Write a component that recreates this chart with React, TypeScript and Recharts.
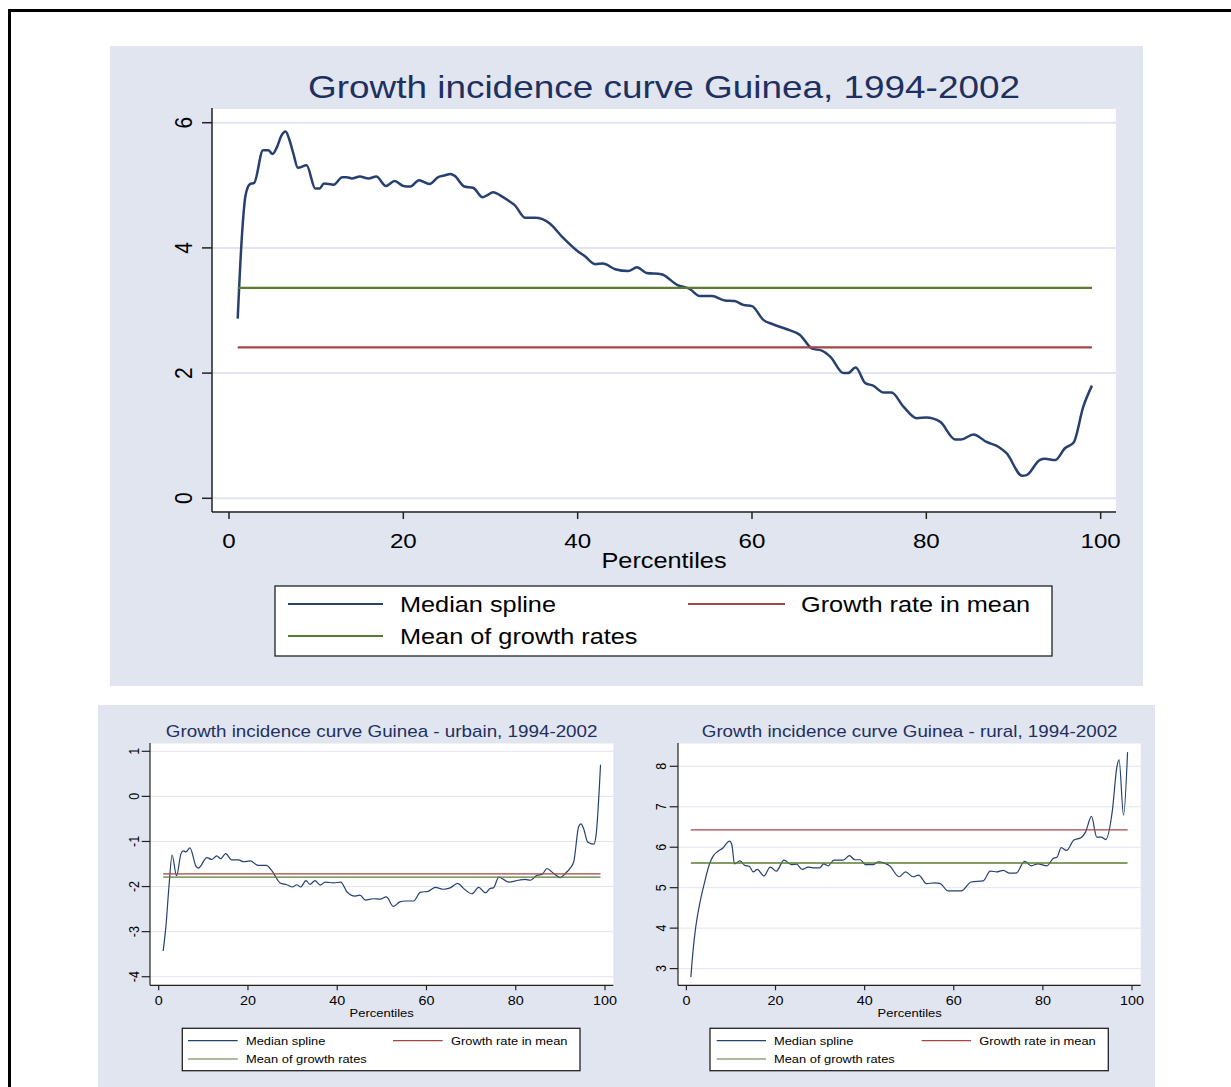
import { LineChart, Line, XAxis, YAxis, CartesianGrid } from 'recharts'

const FONT = '"Liberation Sans", Arial, Helvetica, sans-serif'
const STRETCH = 1.15
const PANEL_BG = '#e0e5f0'
const GRID = '#e1e5ef'
const NAVY = '#27406f'
const MAROON = '#a4444a'
const GREEN = '#5b7b33'
const TITLE_COLOR = '#1f305f'
const AXIS = '#222'

const X_TICKS = [0, 20, 40, 60, 80, 100]
const LEGEND_LABELS = ['Median spline', 'Growth rate in mean', 'Mean of growth rates']
const X_LABEL = 'Percentiles'
// the two reference series run across this range of percentiles
const REF_RANGE = [1, 99]

// Guinea, national
const NAT_TITLE = 'Growth incidence curve Guinea, 1994-2002'
const NAT_Y_TICKS = [0, 2, 4, 6]
const NAT_PCT = [
  1, 1.45, 1.9, 2.4, 2.9, 3.9, 4.5, 5, 5.5, 6,
  6.5, 6.9, 7.4, 7.9, 8.9, 9.9, 10.4, 10.9, 12, 13,
  13.5, 14.1, 15, 16, 16.9, 18, 19, 20, 20.8, 21.8,
  23, 24, 24.8, 25.4, 25.9, 27, 28, 29.1, 29.6, 30.3,
  31.1, 32, 32.8, 34, 35.1, 36.8, 38.2, 39.9, 40.8, 42,
  42.9, 44.3, 45.8, 46.8, 47.9, 49.6, 51.4, 52.9, 54, 55.4,
  56.9, 58, 59, 60, 61.3, 62.4, 64, 65.5, 66.9, 68,
  69, 70.5, 71, 71.9, 73, 73.9, 75.1, 76, 77.4, 78.9,
  80, 81.6, 83.3, 84, 85.4, 86.9, 88.3, 89.2, 91, 91.5,
  93, 93.6, 94.8, 95.9, 96.9, 98, 99,
]
const NAT_MEDIAN = [
  2.87, 4.12, 4.84, 5.02, 5.04, 5.56, 5.56, 5.5, 5.61, 5.79,
  5.86, 5.74, 5.5, 5.28, 5.32, 4.95, 4.95, 5.03, 5.01, 5.13,
  5.13, 5.11, 5.14, 5.11, 5.14, 4.99, 5.07, 4.99, 4.98, 5.08,
  5.02, 5.13, 5.16, 5.18, 5.15, 4.98, 4.96, 4.81, 4.84, 4.89,
  4.84, 4.76, 4.68, 4.48, 4.48, 4.39, 4.18, 3.96, 3.87, 3.74,
  3.75, 3.66, 3.63, 3.69, 3.6, 3.58, 3.41, 3.34, 3.23, 3.23,
  3.16, 3.15, 3.09, 3.07, 2.85, 2.78, 2.7, 2.61, 2.39, 2.36,
  2.26, 2.0, 2.0, 2.09, 1.84, 1.8, 1.69, 1.69, 1.46, 1.28,
  1.29, 1.22, 0.94, 0.94, 1.02, 0.9, 0.82, 0.72, 0.36, 0.37,
  0.61, 0.63, 0.61, 0.8, 0.89, 1.46, 1.8,
]
const NAT_GROWTH_IN_MEAN = 2.41
const NAT_MEAN_OF_RATES = 3.36

// Guinea, urban
const URB_TITLE = 'Growth incidence curve Guinea - urbain, 1994-2002'
const URB_Y_TICKS = [-4, -3, -2, -1, 0, 1]
const URB_PCT = [
  1, 1.6, 2.3, 3, 4, 5, 5.5, 6.1, 7, 8.4,
  8.9, 10.8, 11.9, 13, 13.9, 15, 16.4, 17.9, 19, 20.5,
  22.3, 24.1, 25.3, 27.2, 28.7, 30, 30.9, 31.8, 33, 33.9,
  35, 36.2, 37.3, 39.2, 40.8, 42.2, 44, 45.1, 46.3, 48.1,
  49.6, 51, 52.6, 54, 55.2, 57.1, 58.6, 60.5, 62, 63.8,
  65.3, 67, 68.3, 70.2, 71.7, 73.2, 74.3, 75, 76.2, 78.4,
  80.6, 82.1, 83.3, 84.8, 85.9, 87, 88.5, 90, 91.1, 92.2,
  93, 94.1, 94.6, 95.2, 96.1, 97.5, 98, 99,
]
const URB_MEDIAN = [
  -3.43, -2.9, -2.0, -1.3, -1.76, -1.27, -1.21, -1.23, -1.14, -1.56,
  -1.59, -1.36, -1.4, -1.32, -1.38, -1.27, -1.41, -1.41, -1.45, -1.43,
  -1.53, -1.53, -1.64, -1.92, -1.96, -2.01, -1.96, -2.01, -1.87, -1.95,
  -1.87, -1.97, -1.9, -1.92, -1.9, -2.12, -2.21, -2.19, -2.3, -2.27,
  -2.28, -2.23, -2.44, -2.34, -2.32, -2.32, -2.13, -2.1, -2.02, -2.06,
  -2.03, -1.93, -2.04, -2.16, -2.02, -2.14, -2.04, -2.03, -1.79, -1.9,
  -1.86, -1.84, -1.86, -1.75, -1.73, -1.6, -1.71, -1.8, -1.71, -1.59,
  -1.45, -0.67, -0.61, -0.71, -1.01, -1.06, -0.86, 0.7,
]
const URB_GROWTH_IN_MEAN = -1.72
const URB_MEAN_OF_RATES = -1.79

// Guinea, rural
const RUR_TITLE = 'Growth incidence curve Guinea - rural, 1994-2002'
const RUR_Y_TICKS = [3, 4, 5, 6, 7, 8]
const RUR_PCT = [
  1, 1.5, 2.1, 3, 4.1, 5.2, 6, 7.1, 8.2, 9.3,
  9.7, 10.2, 10.8, 12, 13.1, 14.1, 15, 15.9, 17.4, 18.8,
  20.2, 21.9, 23.6, 24.7, 26, 27.3, 28.4, 29.9, 30.8, 31.8,
  33.1, 35.2, 36.6, 37.8, 39, 40.2, 41.9, 43, 45.6, 47.7,
  49.2, 50.9, 52.1, 53.9, 55.7, 57, 58.7, 61.7, 63.9, 66.6,
  68.2, 69.6, 71.1, 72.5, 74, 75.9, 77.4, 78.9, 80.9, 82.3,
  83.2, 84.1, 85.3, 86.9, 88.6, 89.6, 90.9, 92.1, 93.1, 94.1,
  95.6, 96.6, 97.1, 98.1, 99,
]
const RUR_MEDIAN = [
  2.79, 3.45, 4.03, 4.61, 5.14, 5.59, 5.78, 5.9, 5.98, 6.13,
  6.15, 6.06, 5.59, 5.66, 5.55, 5.53, 5.39, 5.45, 5.29, 5.51,
  5.41, 5.68, 5.57, 5.58, 5.45, 5.51, 5.49, 5.49, 5.59, 5.54,
  5.68, 5.68, 5.79, 5.69, 5.69, 5.57, 5.57, 5.64, 5.54, 5.27,
  5.39, 5.27, 5.31, 5.1, 5.12, 5.1, 4.92, 4.92, 5.14, 5.17,
  5.41, 5.39, 5.43, 5.36, 5.36, 5.65, 5.54, 5.59, 5.54, 5.72,
  5.76, 5.99, 5.92, 6.17, 6.24, 6.38, 6.76, 6.25, 6.25, 6.19,
  6.91, 7.98, 8.16, 6.79, 8.35,
]
const RUR_GROWTH_IN_MEAN = 6.43
const RUR_MEAN_OF_RATES = 5.61

interface ChartSpec {
  title: string
  plot: { x: number; y: number; w: number; h: number }
  xDomain: [number, number]
  yDomain: [number, number]
  yTicks: number[]
  pct: number[]
  median: number[]
  inMean: number
  meanRates: number
  tickFont: number
  yTickLen: number
  xTickLen: number
  yGap: number
  xDy: number
  medianWidth: number
  refWidth: number
  axisWidth: number
  gridWidth: number
  titleFont: number
  titleY: number
  titleLen: number
  labelFont: number
  labelY: number
  legend: {
    box: [number, number, number, number]
    col1: [number, number, number]
    col2: [number, number, number]
    rows: [number, number]
    font: number
    lw: number
  }
}

const SPECS: ChartSpec[] = [
  {
    title: NAT_TITLE,
    plot: { x: 212, y: 108, w: 904, h: 404 },
    xDomain: [-1.95, 101.76],
    yDomain: [-0.219, 6.235],
    yTicks: NAT_Y_TICKS,
    pct: NAT_PCT,
    median: NAT_MEDIAN,
    inMean: NAT_GROWTH_IN_MEAN,
    meanRates: NAT_MEAN_OF_RATES,
    tickFont: 21,
    yTickLen: 10,
    xTickLen: 7,
    yGap: 10,
    xDy: 29,
    medianWidth: 2.5,
    refWidth: 2.2,
    axisWidth: 1.5,
    gridWidth: 2,
    titleFont: 32,
    titleY: 98,
    titleLen: 712,
    labelFont: 22,
    labelY: 568,
    legend: {
      box: [275, 586, 777, 70],
      col1: [288, 383, 400],
      col2: [688, 785, 801],
      rows: [604, 636],
      font: 22,
      lw: 2,
    },
  },
  {
    title: URB_TITLE,
    plot: { x: 150, y: 742.7, w: 463.3, h: 242.3 },
    xDomain: [-1.95, 101.86],
    yDomain: [-4.19, 1.184],
    yTicks: URB_Y_TICKS,
    pct: URB_PCT,
    median: URB_MEDIAN,
    inMean: URB_GROWTH_IN_MEAN,
    meanRates: URB_MEAN_OF_RATES,
    tickFont: 12.5,
    yTickLen: 8.3,
    xTickLen: 5,
    yGap: 3,
    xDy: 15,
    medianWidth: 1.2,
    refWidth: 1.3,
    axisWidth: 1.2,
    gridWidth: 1,
    titleFont: 17,
    titleY: 736.7,
    titleLen: 431.7,
    labelFont: 11.3,
    labelY: 1017,
    legend: {
      box: [182.3, 1028.3, 397.7, 42.4],
      col1: [188, 237.7, 246],
      col2: [393, 442.7, 451],
      rows: [1040.7, 1059],
      font: 11.2,
      lw: 1.2,
    },
  },
  {
    title: RUR_TITLE,
    plot: { x: 678.3, y: 742.7, w: 462.7, h: 242.3 },
    xDomain: [-1.885, 101.95],
    yDomain: [2.587, 8.576],
    yTicks: RUR_Y_TICKS,
    pct: RUR_PCT,
    median: RUR_MEDIAN,
    inMean: RUR_GROWTH_IN_MEAN,
    meanRates: RUR_MEAN_OF_RATES,
    tickFont: 12.5,
    yTickLen: 8.3,
    xTickLen: 5,
    yGap: 3.3,
    xDy: 15,
    medianWidth: 1.2,
    refWidth: 1.3,
    axisWidth: 1.2,
    gridWidth: 1,
    titleFont: 17,
    titleY: 736.7,
    titleLen: 415.7,
    labelFont: 11.3,
    labelY: 1017,
    legend: {
      box: [710, 1028.3, 398.3, 42.4],
      col1: [716.7, 766, 774],
      col2: [921.7, 971, 979.3],
      rows: [1040.7, 1059],
      font: 11.2,
      lw: 1.2,
    },
  },
]

// chart frame around the plot rectangle
const ML = 40
const YW = 60
const MT = 10
const MR = 10
const XH = 30
const MB = 50

function GicChart({ s }: { s: ChartSpec }) {
  const median = s.pct.map((p, i) => ({ p, v: s.median[i] }))
  const inMean = REF_RANGE.map((p) => ({ p, v: s.inMean }))
  const meanRates = REF_RANGE.map((p) => ({ p, v: s.meanRates }))
  const width = s.plot.w + ML + YW + MR
  const height = s.plot.h + MT + XH + MB

  const YTick = (props: any) => {
    const { x, y, payload } = props
    return (
      <g transform={`translate(${x - s.yGap},${y}) scale(${STRETCH},1) rotate(-90)`}>
        <text textAnchor="middle" fontSize={s.tickFont} fontFamily={FONT} fill="#000">
          {payload.value}
        </text>
      </g>
    )
  }
  const XTick = (props: any) => {
    const { x, y, payload } = props
    return (
      <g transform={`translate(${x},${y + s.xDy}) scale(${STRETCH},1)`}>
        <text textAnchor="middle" fontSize={s.tickFont} fontFamily={FONT} fill="#000">
          {payload.value}
        </text>
      </g>
    )
  }

  return (
    <div style={{ position: 'absolute', left: s.plot.x - ML - YW, top: s.plot.y - MT }}>
      <LineChart width={width} height={height} margin={{ top: MT, right: MR, left: ML, bottom: MB }}>
        <CartesianGrid vertical={false} fill="#fff" fillOpacity={1} stroke={GRID} strokeWidth={s.gridWidth} />
        <XAxis
          dataKey="p"
          type="number"
          domain={s.xDomain}
          ticks={X_TICKS}
          interval={0}
          allowDataOverflow
          height={XH}
          tickSize={s.xTickLen}
          tickMargin={0}
          axisLine={{ stroke: AXIS, strokeWidth: s.axisWidth }}
          tickLine={{ stroke: AXIS, strokeWidth: s.axisWidth }}
          tick={<XTick />}
        />
        <YAxis
          type="number"
          domain={s.yDomain}
          ticks={s.yTicks}
          interval={0}
          allowDataOverflow
          width={YW}
          tickSize={s.yTickLen}
          tickMargin={0}
          axisLine={{ stroke: AXIS, strokeWidth: s.axisWidth }}
          tickLine={{ stroke: AXIS, strokeWidth: s.axisWidth }}
          tick={<YTick />}
        />
        <Line
          data={median}
          dataKey="v"
          type="monotone"
          stroke={NAVY}
          strokeWidth={s.medianWidth}
          dot={false}
          activeDot={false}
          isAnimationActive={false}
        />
        <Line
          data={inMean}
          dataKey="v"
          type="linear"
          stroke={MAROON}
          strokeWidth={s.refWidth}
          dot={false}
          activeDot={false}
          isAnimationActive={false}
        />
        <Line
          data={meanRates}
          dataKey="v"
          type="linear"
          stroke={GREEN}
          strokeWidth={s.refWidth}
          dot={false}
          activeDot={false}
          isAnimationActive={false}
        />
      </LineChart>
    </div>
  )
}

function StretchText({ x, y, size, anchor, fill, children }: any) {
  return (
    <g transform={`translate(${x},${y}) scale(${STRETCH},1)`}>
      <text textAnchor={anchor} fontSize={size} fontFamily={FONT} fill={fill}>
        {children}
      </text>
    </g>
  )
}

function Overlay() {
  const colors = [NAVY, MAROON, GREEN]
  return (
    <svg
      width={1231}
      height={1087}
      style={{ position: 'absolute', left: 0, top: 0, pointerEvents: 'none' }}
    >
      {SPECS.map((s, k) => {
        const cx = s.plot.x + s.plot.w / 2
        const lg = s.legend
        const slots = [
          { c: lg.col1, row: lg.rows[0] },
          { c: lg.col2, row: lg.rows[0] },
          { c: lg.col1, row: lg.rows[1] },
        ]
        return (
          <g key={k}>
            <text
              x={cx}
              y={s.titleY}
              textAnchor="middle"
              fontSize={s.titleFont}
              fontFamily={FONT}
              fill={TITLE_COLOR}
              textLength={s.titleLen}
              lengthAdjust="spacingAndGlyphs"
            >
              {s.title}
            </text>
            <StretchText x={cx} y={s.labelY} size={s.labelFont} anchor="middle" fill="#000">
              {X_LABEL}
            </StretchText>
            <rect
              x={lg.box[0]}
              y={lg.box[1]}
              width={lg.box[2]}
              height={lg.box[3]}
              fill="#fff"
              stroke="#222"
              strokeWidth={1.3}
            />
            {LEGEND_LABELS.map((label, i) => (
              <g key={label}>
                <line
                  x1={slots[i].c[0]}
                  x2={slots[i].c[1]}
                  y1={slots[i].row}
                  y2={slots[i].row}
                  stroke={colors[i]}
                  strokeWidth={lg.lw}
                />
                <StretchText
                  x={slots[i].c[2]}
                  y={slots[i].row + lg.font * 0.36}
                  size={lg.font}
                  anchor="start"
                  fill="#000"
                >
                  {label}
                </StretchText>
              </g>
            ))}
          </g>
        )
      })}
    </svg>
  )
}

export default function App() {
  return (
    <div
      style={{
        position: 'absolute',
        left: 0,
        top: 0,
        width: 1231,
        height: 1087,
        overflow: 'hidden',
        background: '#fff',
        fontFamily: FONT,
      }}
    >
      <div
        style={{
          position: 'absolute',
          left: 8,
          top: 9,
          width: 1240,
          height: 1100,
          border: '3px solid #000',
        }}
      />
      <div style={{ position: 'absolute', left: 110, top: 46, width: 1033, height: 640, background: PANEL_BG }} />
      <div style={{ position: 'absolute', left: 98, top: 705, width: 1057, height: 390, background: PANEL_BG }} />
      {SPECS.map((s, k) => (
        <GicChart key={k} s={s} />
      ))}
      <Overlay />
    </div>
  )
}
